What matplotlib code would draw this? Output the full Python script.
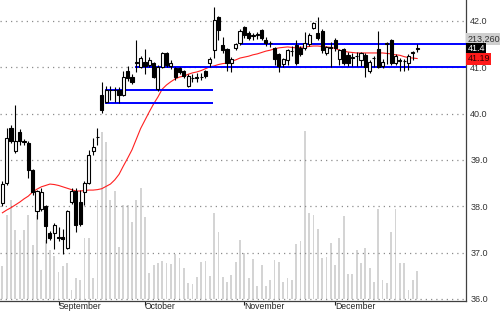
import matplotlib
matplotlib.use('Agg')
import matplotlib.pyplot as plt

# ---------------- data ----------------
opens = [38.07, 38.50, 39.70, 39.19, 39.61, 39.38, 39.37, 38.78, 37.90, 37.95,
         38.00, 37.43, 37.42, 37.33, 37.33, 37.10, 38.10, 38.32, 38.10, 38.30,
         38.50, 39.20, 39.49, 40.40, 40.26, 40.50, 40.52, 40.50, 40.40, 40.92,
         40.80, 41.10, 41.01, 41.12, 41.05, 41.09, 40.53, 41.01, 41.30, 41.02,
         40.98, 40.98, 40.91, 40.60, 40.77, 40.78, 40.79, 40.93, 41.09, 41.37,
         42.08, 41.48, 41.39, 41.09, 41.41, 41.52, 41.88, 41.73, 41.68, 41.70,
         41.81, 41.60, 41.52, 41.41, 41.28, 41.07, 41.16, 41.35, 41.48, 41.41,
         41.41, 41.50, 41.84, 41.73, 41.79, 41.30, 41.42, 41.60, 41.19, 41.39,
         41.27, 41.20, 41.24, 41.16, 41.27, 40.91, 41.20, 41.39, 41.02, 41.50,
         41.60, 41.10, 41.14, 41.13, 41.09, 41.30, 41.40]
highs = [38.55, 39.69, 39.76, 40.19, 39.67, 39.45, 39.42, 38.80, 38.35, 38.40,
         38.03, 37.47, 37.63, 37.55, 37.52, 37.92, 38.40, 38.40, 38.35, 38.55,
         39.22, 39.47, 39.68, 40.69, 40.60, 40.60, 40.58, 40.58, 40.91, 41.02,
         40.85, 41.59, 41.25, 41.39, 41.22, 41.12, 41.05, 41.32, 41.32, 41.15,
         41.00, 41.00, 40.95, 40.85, 40.85, 40.88, 40.88, 40.95, 41.22, 42.31,
         42.10, 41.66, 41.42, 41.22, 41.53, 41.83, 41.90, 41.78, 41.75, 41.76,
         41.83, 41.65, 41.56, 41.44, 41.30, 41.20, 41.40, 41.45, 41.60, 41.45,
         41.77, 41.73, 41.98, 42.09, 41.82, 41.47, 41.55, 41.64, 41.40, 41.42,
         41.32, 41.30, 41.32, 41.33, 41.30, 41.16, 41.25, 41.79, 41.18, 41.55,
         41.62, 41.28, 41.20, 41.18, 41.28, 41.36, 41.50]
lows = [38.01, 38.46, 39.37, 39.15, 39.32, 39.32, 38.62, 38.25, 37.72, 37.90,
        37.21, 37.28, 37.07, 37.26, 36.98, 37.08, 38.05, 37.45, 37.58, 38.02,
        38.48, 39.10, 39.32, 40.01, 40.22, 40.30, 40.25, 40.22, 40.38, 40.70,
        40.65, 40.90, 40.98, 40.85, 41.00, 40.78, 40.49, 40.98, 41.00, 40.96,
        40.73, 40.86, 40.78, 40.58, 40.69, 40.69, 40.72, 40.78, 41.00, 41.20,
        41.59, 41.30, 40.91, 40.90, 41.38, 41.48, 41.63, 41.58, 41.60, 41.62,
        41.58, 41.45, 41.43, 41.05, 40.90, 41.00, 41.05, 41.25, 41.05, 41.25,
        41.38, 41.47, 41.82, 41.60, 41.30, 41.27, 41.00, 41.35, 41.05, 41.04,
        41.02, 41.03, 41.03, 41.03, 40.80, 40.88, 41.00, 40.98, 40.99, 41.08,
        41.05, 41.05, 40.92, 40.93, 40.95, 41.15, 41.34]
closes = [38.48, 39.48, 39.40, 39.40, 39.40, 39.40, 38.78, 38.31, 38.32, 38.30,
          37.58, 37.32, 37.60, 37.32, 37.30, 37.90, 38.32, 37.60, 37.62, 38.50,
          39.10, 39.29, 39.50, 40.08, 40.51, 40.52, 40.50, 40.40, 40.80, 40.78,
          40.69, 41.12, 41.20, 41.02, 41.16, 40.80, 41.01, 41.30, 41.05, 41.10,
          40.80, 40.90, 40.82, 40.81, 40.78, 40.79, 40.80, 40.81, 41.19, 42.02,
          41.81, 41.37, 41.09, 41.17, 41.50, 41.79, 41.70, 41.63, 41.69, 41.71,
          41.63, 41.52, 41.53, 41.18, 41.02, 41.17, 41.37, 41.36, 41.10, 41.29,
          41.52, 41.70, 41.96, 41.63, 41.37, 41.44, 41.43, 41.41, 41.37, 41.09,
          41.09, 41.22, 41.25, 41.30, 41.01, 41.12, 41.21, 41.01, 41.12, 41.52,
          41.09, 41.24, 41.15, 41.14, 41.24, 41.32, 41.41]
volumes = [251300, 639700, 754000, 525500, 449300, 525500, 639700, 411300, 639700, 220900,
           449300, 373200, 327500, 205600, 251300, 274200, 68500, 159900, 144700, 464600,
           464600, 159900, 754000, 1271900, 1195700, 754000, 824800, 398300, 715900, 715900,
           588700, 754000, 845400, 626800, 198000, 258900, 274200, 289400, 276500, 268800,
           342700, 312300, 236100, 124100, 114200, 167600, 284100, 291700, 175200, 655000,
           512600, 169800, 131800, 182800, 281800, 449300, 350300, 162200, 306900, 99000,
           256700, 102800, 148500, 297000, 281800, 129500, 159900, 148500, 418900, 441700,
           1279500, 655000, 639700, 535400, 310000, 322200, 424200, 256700, 464600, 632100,
           188100, 190400, 373200, 276500, 388400, 238400, 129500, 683200, 144700, 121900,
           510300, 685400, 274200, 276500, 70800, 147000, 213260]
ma = [37.86, 37.92, 37.97, 38.03, 38.09, 38.16, 38.22, 38.31, 38.37, 38.42,
      38.45, 38.48, 38.47, 38.45, 38.42, 38.39, 38.36, 38.33, 38.33, 38.34,
      38.35, 38.35, 38.36, 38.38, 38.43, 38.48, 38.57, 38.69, 38.87, 39.04,
      39.22, 39.45, 39.68, 39.86, 40.04, 40.21, 40.36, 40.53, 40.62, 40.69,
      40.75, 40.79, 40.81, 40.85, 40.88, 40.90, 40.93, 40.97, 41.01, 41.03,
      41.06, 41.08, 41.09, 41.13, 41.16, 41.20, 41.22, 41.24, 41.27, 41.29,
      41.32, 41.35, 41.37, 41.40, 41.42, 41.43, 41.44, 41.43, 41.42, 41.43,
      41.44, 41.45, 41.46, 41.46, 41.45, 41.44, 41.43, 41.41, 41.37, 41.35,
      41.33, 41.32, 41.31, 41.31, 41.31, 41.31, 41.31, 41.31, 41.31, 41.30,
      41.29, 41.27, 41.26, 41.23, 41.21, 41.20, 41.19]
month_labels = ['September', 'October', 'November', 'December']
month_first_bar = [13, 33, 56, 77]
price_ticks = [36.0, 37.0, 38.0, 39.0, 40.0, 41.0, 42.0]
# horizontal levels: (price, start bar, end bar or None = to the right edge)
levels = [(41.51, 55.0, None), (41.00, 30.7, None), (40.52, 23.75, 48.75), (40.22, 23.75, 48.75)]
last_volume_label = '213,260'
last_close_label = '41.4'
ma_label = '41.19'

# ---------------- figure ----------------
plt.rcParams['font.family'] = ['Liberation Sans', 'DejaVu Sans']
fig = plt.figure(figsize=(5.0, 3.12), dpi=100)
ax = fig.add_axes([0.0, 11 / 312, 466 / 500, 301 / 312])
axv = ax.twinx()
ax.set_zorder(axv.get_zorder() + 1)
ax.patch.set_visible(False)

n = len(closes)
xs = list(range(n))
xmin, xmax = -0.556, 107.31
ax.set_xlim(xmin, xmax)
ax.set_ylim(35.956, 42.453)

# volume
axv.bar(xs, volumes, width=0.42, color='#d4d4d4', linewidth=0)
axv.set_ylim(-2 * 7616, 299 * 7616)
axv.set_yticks([])
for s in axv.spines.values():
    s.set_visible(False)

# grid
for p in price_ticks:
    ax.axhline(p, color='#8c8c8c', lw=0.9, linestyle=(0, (1.0, 3.2)), zorder=1)

# moving average
ax.plot(xs, ma, color='#ff2020', lw=0.8, zorder=2)

# levels
for price, x0, x1 in levels:
    ax.hlines(price, x0, xmax if x1 is None else x1, color='#0000ff', lw=1.4, zorder=3)

# candles
for i in xs:
    o, h, l, c = opens[i], highs[i], lows[i], closes[i]
    ax.vlines(i, l, h, color='black', lw=0.8, zorder=4)
    up = c >= o
    ax.bar(i, abs(c - o), bottom=min(o, c), width=0.72,
           facecolor='white' if up else 'black', edgecolor='black',
           linewidth=0.8, zorder=5)

# axes styling
for side in ['left', 'top']:
    ax.spines[side].set_visible(False)
ax.spines['right'].set_color('#404040')
ax.spines['bottom'].set_color('#404040')
ax.spines['right'].set_linewidth(0.9)
ax.spines['bottom'].set_linewidth(0.9)
ax.yaxis.tick_right()
ax.set_yticks(price_ticks)
ax.set_yticklabels([f'{p:.1f}' for p in price_ticks])
ax.tick_params(axis='y', length=0, pad=3, labelsize=6.5, labelcolor='#333333')
ax.set_xticks(month_first_bar)
ax.set_xticklabels(month_labels, ha='left')
ax.tick_params(axis='x', length=3.0, width=0.8, direction='out', pad=-2.4,
               labelsize=6.2, labelcolor='#222222', color='#222222')
for lbl in ax.get_xticklabels():
    lbl.set_x(lbl.get_position()[0])

# right-hand value boxes
tr = ax.get_yaxis_transform()
ax.text(1.003, 41.61, last_volume_label, transform=tr, fontsize=6.5, color='#333333',
        va='center', ha='left', clip_on=False, zorder=10,
        bbox=dict(boxstyle='square,pad=0.15', fc='#cfcfcf', ec='none'))
ax.text(1.003, 41.40, last_close_label, transform=tr, fontsize=6.5, color='white',
        va='center', ha='left', clip_on=False, zorder=10,
        bbox=dict(boxstyle='square,pad=0.15', fc='black', ec='none'))
ax.text(1.003, 41.185, ma_label, transform=tr, fontsize=6.5, color='#300000',
        va='center', ha='left', clip_on=False, zorder=10,
        bbox=dict(boxstyle='square,pad=0.15', fc='#ff1a1a', ec='none'))

fig.savefig('out.png', dpi=100)
